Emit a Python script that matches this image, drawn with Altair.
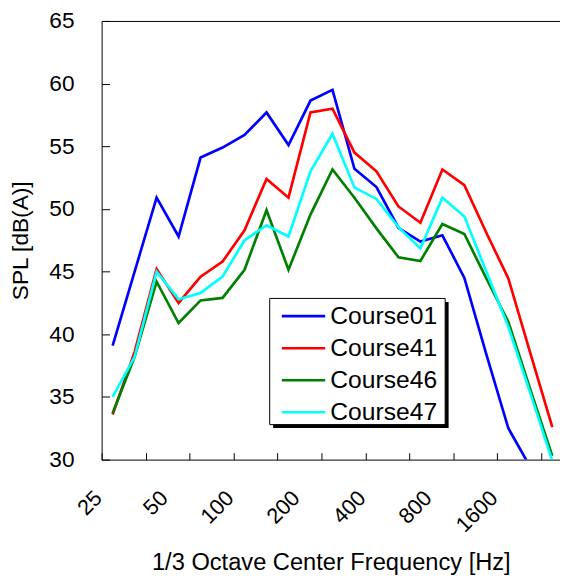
import altair as alt
import pandas as pd

# ---- data ----
freqs = ["25", "31.5", "40", "50", "63", "80", "100", "125", "160", "200", "250",
         "315", "400", "500", "630", "800", "1000", "1250", "1600", "2000", "2500"]
course01 = [39.1, 45.0, 50.9, 47.8, 54.1, 54.9, 55.9, 57.7, 55.1, 58.65, 59.5,
            53.2, 51.75, 48.5, 47.4, 47.9, 44.5, 38.4, 32.5, 29.4, 27.0]
course41 = [33.6, 38.6, 45.2, 42.5, 44.6, 45.8, 48.3, 52.4, 50.9, 57.7, 58.0,
            54.5, 53.0, 50.2, 48.9, 53.15, 51.9, 48.1, 44.45, 38.5, 32.6]
course46 = [33.7, 38.2, 44.2, 40.9, 42.7, 42.9, 45.15, 49.9, 45.15, 49.55, 53.15,
            50.9, 48.45, 46.15, 45.85, 48.8, 48.0, 44.45, 41.0, 35.6, 30.3]
course47 = [35.0, 38.2, 45.0, 42.8, 43.3, 44.6, 47.5, 48.7, 47.8, 53.0, 56.0,
            51.7, 50.8, 48.55, 46.85, 50.9, 49.4, 45.0, 40.6, 35.3, 29.9]
series_names = ["Course01", "Course41", "Course46", "Course47"]
series_colors = ["#0000FF", "#FF0000", "#008000", "#00FFFF"]
tick_labels = ["25", "50", "100", "200", "400", "800", "1600"]
y_ticks = [30, 35, 40, 45, 50, 55, 60, 65]

rows = []
for name, vals in zip(series_names, [course01, course41, course46, course47]):
    for i, (f, v) in enumerate(zip(freqs, vals)):
        rows.append({"idx": i, "freq": f, "series": name, "spl": v})
df = pd.DataFrame(rows)

FONT = "Liberation Sans"
W, H = 465, 445

label_idx = [freqs.index(t) for t in tick_labels]
label_expr = "[" + ",".join("'" + f + "'" for f in freqs) + "][round(datum.value)]"
x_tick_vals = [-0.5 + 2 * k for k in range(11)]

xscale = alt.Scale(domain=[-0.5, 20.35], nice=False, zero=False)
yscale = alt.Scale(domain=[30, 65], nice=False, zero=False)

lines = alt.Chart(df).mark_line(strokeWidth=2.7, clip=True).encode(
    x=alt.X("idx:Q", scale=xscale, axis=alt.Axis(
        values=label_idx, labelExpr=label_expr, ticks=False, tickSize=0,
        domain=True, domainColor="black", domainWidth=1, grid=False,
        labelAngle=-45, labelAlign="right", labelBaseline="middle",
        labelPadding=35, labelOffset=-15, labelFontSize=22, labelFont=FONT,
        labelColor="black", labelFlush=False, labelOverlap=False,
        title="1/3 Octave Center Frequency [Hz]", titleFont=FONT,
        titleFontSize=24, titleFontWeight="normal", titleColor="black",
        titleX=W / 2, titleY=111, titleAlign="center",
        titleBaseline="alphabetic")),
    y=alt.Y("spl:Q", scale=yscale, axis=alt.Axis(
        values=y_ticks, ticks=False, tickSize=0, domain=True,
        domainColor="black", domainWidth=1, grid=False, labelPadding=28,
        labelFontSize=23, labelFont=FONT, labelColor="black",
        labelBaseline="middle",
        title="SPL [dB(A)]", titleFont=FONT, titleFontSize=23,
        titleFontWeight="normal", titleColor="black", titleX=-82,
        titleY=H / 2, titleAngle=270, titleAlign="center",
        titleBaseline="middle")),
    color=alt.Color("series:N",
                    scale=alt.Scale(domain=series_names, range=series_colors),
                    legend=alt.Legend(
                        title=None, orient="none", legendX=172, legendY=281,
                        padding=6,
                        symbolType="M-0.7,0H3.3", symbolSize=484,
                        symbolStrokeWidth=2.7, labelFontSize=25,
                        labelFont=FONT, labelColor="black", labelOffset=29,
                        rowPadding=6.5)),
)

helper = alt.Chart(df).mark_point(opacity=0)

xticks_layer = helper.encode(
    x=alt.X("idx:Q", scale=xscale, axis=alt.Axis(
        orient="top", offset=-H, values=x_tick_vals, labels=False,
        domain=False, ticks=True, tickSize=7, tickColor="black",
        tickWidth=1, grid=False, title=None)),
    y=alt.Y("spl:Q", scale=yscale, axis=None),
)

top_layer = helper.encode(
    x=alt.X("idx:Q", scale=xscale, axis=alt.Axis(
        orient="top", labels=False, ticks=False, domain=True,
        domainColor="black", domainWidth=1, grid=False, title=None)),
    y=alt.Y("spl:Q", scale=yscale, axis=None),
)

yticks_layer = helper.encode(
    x=alt.X("idx:Q", scale=xscale, axis=None),
    y=alt.Y("spl:Q", scale=yscale, axis=alt.Axis(
        orient="right", offset=-W, values=y_ticks, labels=False,
        domain=False, ticks=True, tickSize=8, tickColor="black",
        tickWidth=1, grid=False, title=None)),
)

# legend frame (white box with a black drop shadow)
box_df = pd.DataFrame({"k": [0]})
shadow = alt.Chart(box_df).mark_rect(color="black").encode(
    x=alt.value(174), x2=alt.value(352), y=alt.value(285), y2=alt.value(413)
)
box = alt.Chart(box_df).mark_rect(fill="white", stroke="black", strokeWidth=1).encode(
    x=alt.value(170.5), x2=alt.value(348.5), y=alt.value(281.5), y2=alt.value(409.5)
)

chart = alt.layer(lines, shadow, box, xticks_layer, top_layer, yticks_layer).resolve_axis(
    x="independent", y="independent"
).properties(
    width=W, height=H,
    padding={"left": 95, "top": 9, "right": 0, "bottom": 119},
    autosize=alt.AutoSizeParams(type="none"),
    background="white",
).configure_view(stroke=None)

chart.save("out.html", embed_options={"renderer": "svg", "actions": False})
